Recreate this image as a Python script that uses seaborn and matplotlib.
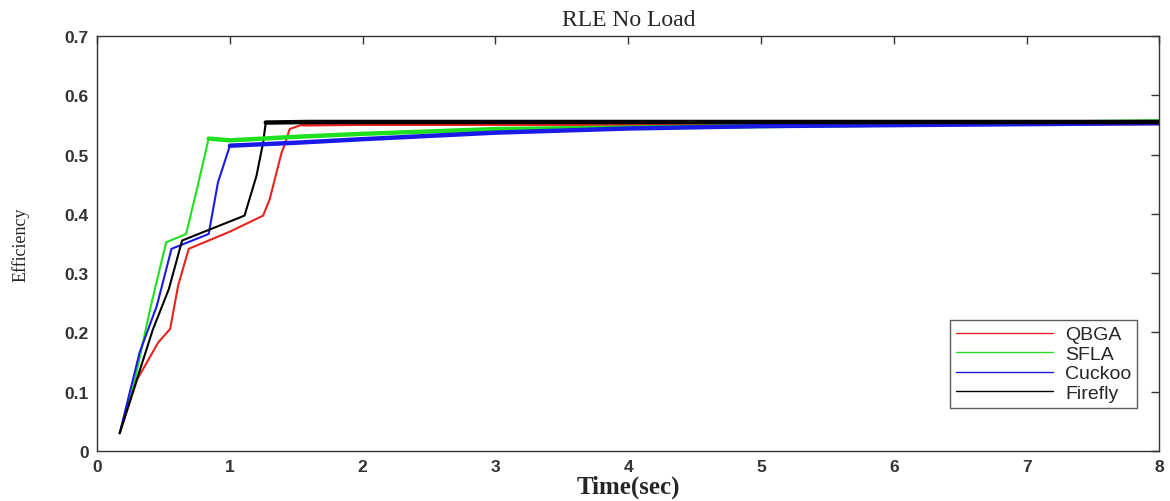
import numpy as np
import pandas as pd
import matplotlib
matplotlib.use("Agg")
import matplotlib.pyplot as plt
import seaborn as sns

# ---- data ----
series_names = ["QBGA", "SFLA", "Cuckoo", "Firefly"]

t_qbga = [0.17, 0.30, 0.46, 0.55, 0.61, 0.69, 1.00, 1.25, 1.30, 1.39, 1.41, 1.45, 1.55, 2.0, 4.0, 8.0]
y_qbga = [0.030, 0.120, 0.183, 0.206, 0.279, 0.341, 0.370, 0.397, 0.425, 0.504, 0.515, 0.543, 0.551, 0.552, 0.552, 0.553]

t_sfla = [0.17, 0.27, 0.40, 0.52, 0.67, 0.75, 0.84, 1.0, 1.5, 2.0, 3.0, 5.0, 8.0]
y_sfla = [0.030, 0.105, 0.240, 0.352, 0.366, 0.440, 0.527, 0.524, 0.530, 0.535, 0.543, 0.548, 0.556]

t_cuckoo = [0.17, 0.32, 0.45, 0.56, 0.84, 0.91, 1.00, 1.5, 2.0, 3.0, 4.0, 5.0, 8.0]
y_cuckoo = [0.030, 0.166, 0.245, 0.341, 0.366, 0.453, 0.515, 0.520, 0.526, 0.537, 0.544, 0.548, 0.553]

t_firefly = [0.17, 0.27, 0.42, 0.54, 0.64, 1.11, 1.20, 1.25, 1.27, 1.6, 4.0, 8.0]
y_firefly = [0.030, 0.100, 0.205, 0.273, 0.355, 0.397, 0.464, 0.520, 0.554, 0.555, 0.555, 0.555]

# index where each curve reaches its plateau (drawn thicker, as in the reference)
plateau_start = {"QBGA": 12, "SFLA": 6, "Cuckoo": 6, "Firefly": 8}

x_ticks = [0, 1, 2, 3, 4, 5, 6, 7, 8]
y_ticks = [0, 0.1, 0.2, 0.3, 0.4, 0.5, 0.6, 0.7]
y_tick_labels = ["0", "0.1", "0.2", "0.3", "0.4", "0.5", "0.6", "0.7"]

colors = {"QBGA": "#e8221c", "SFLA": "#1fe01f", "Cuckoo": "#1a1ae6", "Firefly": "#000000"}

frames = []
for name, t, y in zip(series_names,
                      [t_qbga, t_sfla, t_cuckoo, t_firefly],
                      [y_qbga, y_sfla, y_cuckoo, y_firefly]):
    frames.append(pd.DataFrame({"Time": t, "Efficiency": y, "Method": name}))
df = pd.concat(frames, ignore_index=True)

sns.set_theme(style="white")
plt.rcParams["font.family"] = ["Liberation Sans", "DejaVu Sans"]

fig = plt.figure(figsize=(11.7, 5.02), dpi=100)
ax = fig.add_axes([0.083, 0.0996, 0.908, 0.8267])

sns.lineplot(data=df, x="Time", y="Efficiency", hue="Method", hue_order=series_names,
             palette=colors, sort=False, estimator=None, linewidth=1.5, ax=ax)

# thicker (noisy-looking) plateau portions
for name in series_names:
    sub = df[df["Method"] == name].iloc[plateau_start[name]:]
    sns.lineplot(data=sub, x="Time", y="Efficiency", color=colors[name], sort=False,
                 estimator=None, linewidth=3.2, ax=ax, legend=False)

ax.set_xlim(0, 8)
ax.set_ylim(0, 0.7)
ax.set_xticks(x_ticks)
ax.set_xticklabels([str(v) for v in x_ticks])
ax.set_yticks(y_ticks)
ax.set_yticklabels(y_tick_labels)
ax.tick_params(direction="in", top=True, right=True, length=6, width=1,
               labelsize=12.5, colors="#333333", pad=6)
for lab in ax.get_xticklabels() + ax.get_yticklabels():
    lab.set_fontweight("bold")
    lab.set_color("#333333")
for s in ax.spines.values():
    s.set_color("#333333")
    s.set_linewidth(1)

ax.set_title("RLE No Load", fontfamily="Liberation Serif", fontsize=17, pad=8)
ax.set_xlabel("Time(sec)", fontfamily="Liberation Serif", fontsize=18, fontweight="bold", labelpad=0)
ax.set_ylabel("Efficiency", fontfamily="Liberation Serif", fontsize=13, labelpad=25)

handles, labels = ax.get_legend_handles_labels()
handles, labels = handles[:4], labels[:4]
for h in handles:
    h.set_linewidth(1.0)
leg = ax.legend(handles, labels, loc="lower right", bbox_to_anchor=(0.979, 0.104),
                borderaxespad=0, frameon=True, fancybox=False, fontsize=14,
                handlelength=5.0, borderpad=0.3, labelspacing=0.1, handletextpad=0.6)
leg.get_frame().set_edgecolor("#333333")
leg.get_frame().set_linewidth(1.0)

fig.savefig("out.png", dpi=100)
